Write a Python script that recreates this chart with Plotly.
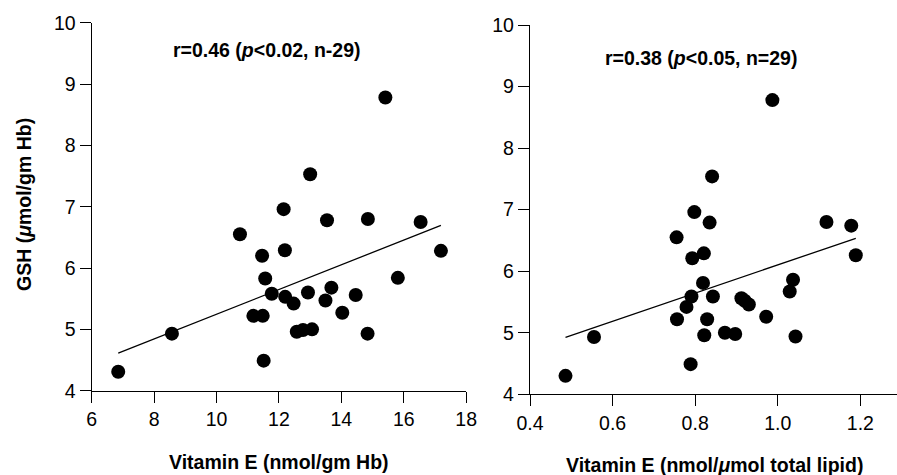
import numpy as np
import plotly.graph_objects as go

# Left panel: Vitamin E (nmol/gm Hb) vs GSH
vitE_hb = [6.85, 8.57, 10.75, 11.18, 11.48, 11.46, 11.56, 11.51, 11.77, 12.15,
           12.19, 12.20, 12.47, 12.57, 12.77, 12.93, 13.00, 13.06, 13.49, 13.54,
           13.68, 14.03, 14.46, 14.84, 14.85, 15.41, 15.81, 16.54, 17.19]
gsh_left = [4.31, 4.93, 6.55, 5.22, 5.22, 6.20, 5.83, 4.49, 5.58, 6.96,
            6.29, 5.53, 5.42, 4.96, 4.99, 5.60, 7.53, 5.00, 5.47, 6.78,
            5.68, 5.27, 5.56, 4.93, 6.80, 8.78, 5.84, 6.75, 6.28]

# Right panel: Vitamin E (nmol/umol total lipid) vs GSH
vitE_lipid = [0.486, 0.555, 0.755, 0.756, 0.779, 0.791, 0.793, 0.789, 0.798, 0.821,
              0.819, 0.822, 0.829, 0.835, 0.841, 0.843, 0.872, 0.897, 0.912, 0.920,
              0.930, 0.972, 0.987, 1.029, 1.037, 1.043, 1.118, 1.178, 1.189]
gsh_right = [4.30, 4.93, 6.55, 5.22, 5.42, 5.59, 6.21, 4.49, 6.96, 6.29,
             5.81, 4.96, 5.22, 6.79, 7.54, 5.59, 5.00, 4.98, 5.56, 5.52,
             5.46, 5.26, 8.78, 5.67, 5.86, 4.94, 6.80, 6.74, 6.26]

left_xticks = [6, 8, 10, 12, 14, 16, 18]
right_xticks = [0.4, 0.6, 0.8, 1.0, 1.2]
y_ticks = [4, 5, 6, 7, 8, 9, 10]

stat_left = "<b>r=0.46 (<i>p</i><0.02, n-29)</b>"
stat_right = "<b>r=0.38 (<i>p</i><0.05, n=29)</b>"
ytitle = "<b>GSH (<i>μ</i>mol/gm Hb)</b>"
xtitle_left = "<b>Vitamin E (nmol/gm Hb)</b>"
xtitle_right = "<b>Vitamin E (nmol/<i>μ</i>mol total lipid)</b>"

W, H = 897, 475
FONT = "Liberation Sans, Arial, sans-serif"


def fit_line(x, y):
    x = np.asarray(x); y = np.asarray(y)
    m, b = np.polyfit(x, y, 1)
    xs = np.array([x.min(), x.max()])
    return xs, m * xs + b


fig = go.Figure()
marker = dict(color="black", size=14, line=dict(width=0))

fig.add_trace(go.Scatter(x=vitE_hb, y=gsh_left, mode="markers", marker=marker,
                         xaxis="x", yaxis="y", showlegend=False))
lx, ly = fit_line(vitE_hb, gsh_left)
fig.add_trace(go.Scatter(x=lx, y=ly, mode="lines", line=dict(color="black", width=1.3),
                         xaxis="x", yaxis="y", showlegend=False))

fig.add_trace(go.Scatter(x=vitE_lipid, y=gsh_right, mode="markers", marker=marker,
                         xaxis="x2", yaxis="y2", showlegend=False))
rx, ry = fit_line(vitE_lipid, gsh_right)
fig.add_trace(go.Scatter(x=rx, y=ry, mode="lines", line=dict(color="black", width=1.3),
                         xaxis="x2", yaxis="y2", showlegend=False))

axis_common = dict(showgrid=False, zeroline=False, showline=True, linecolor="black",
                   linewidth=1.3, ticks="outside", ticklen=11, tickwidth=1.2,
                   automargin=False,
                   tickcolor="black", tickfont=dict(family=FONT, size=19.5, color="black"))

fig.update_layout(
    template="none",
    width=W, height=H, autosize=False,
    margin=dict(l=0, r=0, t=0, b=0, pad=0),
    paper_bgcolor="white", plot_bgcolor="white",
    xaxis=dict(domain=[91.7 / W, 466.2 / W], range=[6, 18], tickvals=left_xticks,
               anchor="y", **axis_common),
    yaxis=dict(domain=[(H - 390.7) / H, (H - 22.7) / H], range=[4, 10], tickvals=y_ticks,
               anchor="x", **axis_common),
    xaxis2=dict(domain=[530 / W, 1.0], range=[0.4, 1.2888], tickvals=right_xticks,
                tickformat=".1f", anchor="y2", **axis_common),
    yaxis2=dict(domain=[(H - 394.3) / H, (H - 25) / H], range=[4, 10], tickvals=y_ticks,
                anchor="x2", **axis_common),
)

def ann(text, x, y, size=19.5, angle=0):
    fig.add_annotation(text=text, x=x / W, y=1 - y / H, xref="paper", yref="paper",
                       showarrow=False, xanchor="center", yanchor="middle",
                       textangle=angle, font=dict(family=FONT, size=size, color="black"))

ann(stat_left, 266.7, 50)
ann(stat_right, 700.8, 58.3)
ann(ytitle, 24, 205, angle=-90)
ann(xtitle_left, 279, 461.7)
ann(xtitle_right, 714, 465)

fig.write_html("out.html", config={"displayModeBar": False},
               post_script="document.body.style.margin='0';document.body.style.overflow='hidden';")
